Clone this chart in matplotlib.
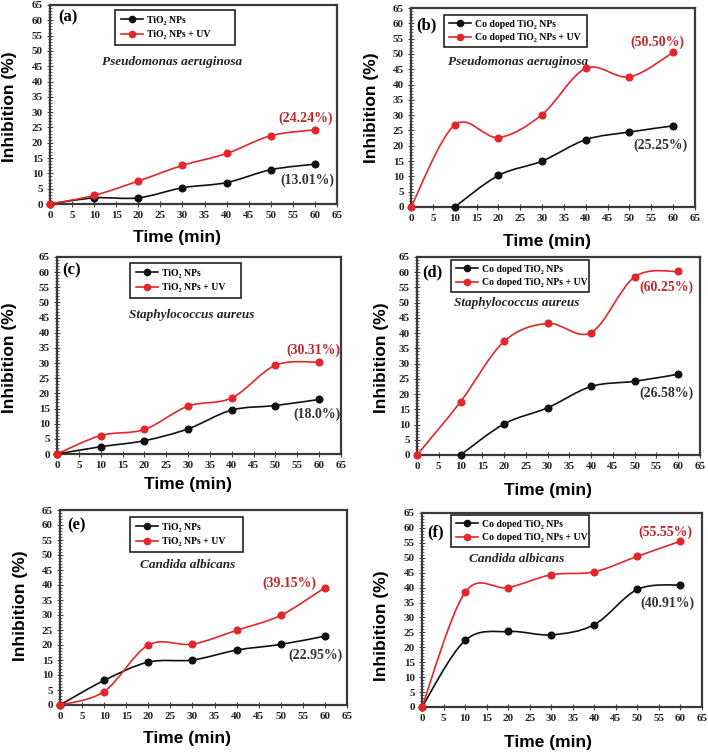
import matplotlib
matplotlib.use("Agg")
import matplotlib.pyplot as plt
from matplotlib.path import Path
from matplotlib.patches import PathPatch
from matplotlib.lines import Line2D
from matplotlib.ticker import MultipleLocator

# ---- data (time in min, inhibition in %) ----
time = [0, 10, 20, 30, 40, 50, 60]
time_doped = [10, 20, 30, 40, 50, 60]

pa_tio2 = [0, 2.0, 2.0, 5.3, 7.0, 11.2, 13.01]
pa_tio2_uv = [0, 2.8, 7.5, 12.6, 16.5, 22.3, 24.24]
pa_co = [0, 10.3, 15.0, 22.0, 24.5, 26.5]
pa_co_uv = [0, 26.8, 22.7, 30.2, 45.3, 42.5, 50.5]

sa_tio2 = [0, 2.4, 4.4, 8.3, 14.5, 16.0, 18.0]
sa_tio2_uv = [0, 6.1, 8.1, 15.8, 18.5, 29.3, 30.31]
sa_co = [0, 10.2, 15.5, 22.5, 24.2, 26.5]
sa_co_uv = [0, 17.5, 37.3, 43.2, 40.2, 58.5, 60.25]

ca_tio2 = [0, 8.2, 14.3, 15.0, 18.3, 20.2, 22.95]
ca_tio2_uv = [0, 4.5, 20.0, 20.3, 24.9, 29.9, 39.15]
ca_co = [0, 22.3, 25.3, 24.2, 27.6, 39.4, 40.91]
ca_co_uv = [0, 38.4, 40.0, 44.3, 45.3, 50.5, 55.55]

RED = "#e3262b"
RED_TXT = "#c1272d"
BLK = "#111111"
W, H = 708, 755


def smooth_line(ax, xs, ys, color):
    # Excel-style smoothed line: cubic Bezier through the points
    pts = list(zip(xs, ys))
    n = len(pts)
    verts = [pts[0]]
    codes = [Path.MOVETO]
    for i in range(n - 1):
        p0 = pts[max(i - 1, 0)]
        p1 = pts[i]
        p2 = pts[i + 1]
        p3 = pts[min(i + 2, n - 1)]
        c1 = (p1[0] + (p2[0] - p0[0]) / 6, p1[1] + (p2[1] - p0[1]) / 6)
        c2 = (p2[0] - (p3[0] - p1[0]) / 6, p2[1] - (p3[1] - p1[1]) / 6)
        verts += [c1, c2, p2]
        codes += [Path.CURVE4] * 3
    ax.add_patch(PathPatch(Path(verts, codes), fill=False, edgecolor=color,
                           linewidth=1.2, transform=ax.transData, clip_on=False,
                           zorder=3))
    ax.plot(xs, ys, ls="none", marker="o", ms=4.8, color=color, clip_on=False,
            zorder=4)


def make_axes(fig, l, r, t, b):
    return fig.add_axes([l / W, 1 - b / H, (r - l) / W, (b - t) / H])


panels = [
    dict(box=(50, 337, 5, 204), black=(time, pa_tio2), red=(time, pa_tio2_uv), tag="(a)",
         tagpos=(0.03, 0.94), species="Pseudomonas aeruginosa", sp=(0.425, 0.714),
         leg=(0.226, 0.789, 0.645, 0.975), doped=False,
         ylab=(-0.115, 0.487), xlab=(0.444, -0.13),
         notes=[("(24.24%)", 57.8, 28.1, RED_TXT), ("(13.01%)", 58.2, 7.8, "#333333")]),
    dict(box=(411, 695, 8, 207), black=(time_doped, pa_co), red=(time, pa_co_uv), tag="(b)",
         tagpos=(0.02, 0.915), species="Pseudomonas aeruginosa", sp=(0.377, 0.729),
         leg=(0.116, 0.774, 0.62, 0.965), doped=True,
         ylab=(-0.113, 0.50), xlab=(0.479, -0.136),
         notes=[("(50.50%)", 56.5, 53.9, RED_TXT), ("(25.25%)", 57.2, 20.3, "#333333")]),
    dict(box=(57, 341, 257, 454), black=(time, sa_tio2), red=(time, sa_tio2_uv), tag="(c)",
         tagpos=(0.02, 0.934), species="Staphylococcus aureus", sp=(0.473, 0.706),
         leg=(0.258, 0.766, 0.647, 0.97), doped=False,
         ylab=(-0.141, 0.49), xlab=(0.461, -0.119),
         notes=[("(30.31%)", 58.6, 34.3, RED_TXT), ("(18.0%)", 59.5, 13.2, "#333333")]),
    dict(box=(417, 700, 257, 455), black=(time_doped, sa_co), red=(time, sa_co_uv), tag="(d)",
         tagpos=(0.02, 0.924), species="Staphylococcus aureus", sp=(0.353, 0.768),
         leg=(0.12, 0.818, 0.608, 0.985), doped=True,
         ylab=(-0.099, 0.49), xlab=(0.463, -0.141),
         notes=[("(60.25%)", 57.4, 55.2, RED_TXT), ("(26.58%)", 57.4, 20.3, "#333333")]),
    dict(box=(60, 347, 510, 705), black=(time, ca_tio2), red=(time, ca_tio2_uv), tag="(e)",
         tagpos=(0.024, 0.923), species="Candida albicans", sp=(0.443, 0.718),
         leg=(0.244, 0.769, 0.638, 0.964), doped=False,
         ylab=(-0.111, 0.51), xlab=(0.444, -0.133),
         notes=[("(39.15%)", 51.9, 40.7, RED_TXT), ("(22.95%)", 57.8, 16.7, "#333333")]),
    dict(box=(422, 702, 513, 707), black=(time, ca_co), red=(time, ca_co_uv), tag="(f)",
         tagpos=(0.018, 0.90), species="Candida albicans", sp=(0.3375, 0.763),
         leg=(0.104, 0.81, 0.596, 0.99), doped=True,
         ylab=(-0.118, 0.42), xlab=(0.449, -0.142),
         notes=[("(55.55%)", 56.6, 58.6, RED_TXT), ("(40.91%)", 56.9, 34.8, "#333333")]),
]

fig = plt.figure(figsize=(W / 100, H / 100), dpi=100)

for p in panels:
    ax = make_axes(fig, *p["box"])
    ax.set_xlim(0, 65)
    ax.set_ylim(0, 65)
    ax.xaxis.set_major_locator(MultipleLocator(5))
    ax.yaxis.set_major_locator(MultipleLocator(5))
    ax.yaxis.set_minor_locator(MultipleLocator(1))
    ax.tick_params(which="major", direction="inout", length=4, width=0.8,
                   color="#444444", pad=3)
    ax.tick_params(axis="x", pad=3)
    ax.tick_params(which="minor", axis="y", direction="inout", length=2.5,
                   width=0.6, color="#444444")
    for lab in ax.get_xticklabels() + ax.get_yticklabels():
        lab.set_fontfamily("Liberation Serif")
        lab.set_fontweight("bold")
        lab.set_fontsize(8)
        lab.set_color("#222222")
    for s in ax.spines.values():
        s.set_color("#3a3a3a")
        s.set_linewidth(1.6)

    smooth_line(ax, *p["black"], BLK)
    smooth_line(ax, *p["red"], RED)

    ax.set_ylabel("Inhibition (%)", fontfamily="Liberation Sans", fontweight="bold",
                  fontsize=12.5)
    ax.yaxis.set_label_coords(*p["ylab"])
    ax.set_xlabel("Time (min)", fontfamily="Liberation Sans", fontweight="bold",
                  fontsize=12.5, va="top")
    ax.xaxis.set_label_coords(*p["xlab"])

    ax.text(*p["tagpos"], p["tag"], transform=ax.transAxes, ha="left", va="center",
            fontfamily="Liberation Serif", fontweight="bold", fontsize=12)
    ax.text(*p["sp"], p["species"], transform=ax.transAxes, ha="center", va="center",
            fontfamily="Liberation Serif", fontweight="bold", style="italic",
            fontsize=9.5, color="#222222")
    for txt, x, y, c in p["notes"]:
        ax.text(x, y, txt, ha="center", va="center", fontfamily="Liberation Serif",
                fontweight="bold", fontsize=10, color=c)

    name = "Co doped TiO\u2082 NPs" if p["doped"] else "TiO\u2082 NPs"
    handles = [Line2D([], [], color=BLK, lw=1.2, marker="o", ms=4.5),
               Line2D([], [], color=RED, lw=1.2, marker="o", ms=4.5)]
    x0, y0, x1, y1 = p["leg"]
    leg = ax.legend(handles, [name, name + " + UV"], loc="upper left",
                    bbox_to_anchor=(x0, y0, x1 - x0, y1 - y0), mode="expand",
                    fancybox=False, edgecolor="#222222", framealpha=1,
                    borderaxespad=0, handlelength=2.3, handletextpad=0.4,
                    labelspacing=0.55 if not p["doped"] else 0.45,
                    borderpad=0.6 if not p["doped"] else 0.5,
                    prop=dict(family="Liberation Serif", weight="bold", size=7))
    leg.get_frame().set_linewidth(1.2)

fig.savefig("out.png", dpi=100)
